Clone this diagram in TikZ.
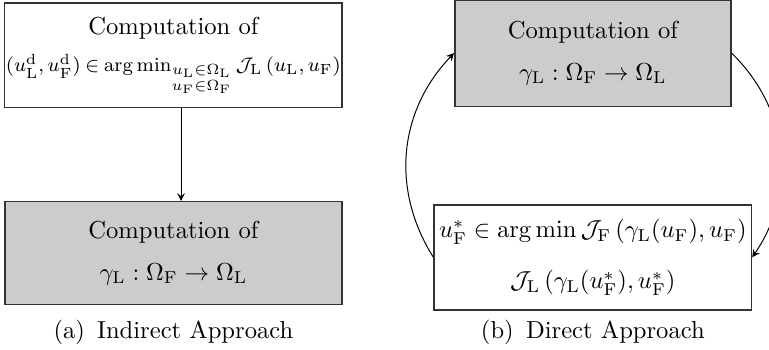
\documentclass[tikz,border=0pt]{standalone}
\usepackage{amsmath,amssymb}
\usepackage{tikz}
\usetikzlibrary{positioning, arrows.meta, calc}

\begin{document}
\begin{tikzpicture}[
  cbox/.style={draw=black!80, line width=0.6pt, rectangle, align=center, inner sep=2pt},
  gbox/.style={cbox, fill=gray!40},
  captxt/.style={inner sep=0pt},
  >=stealth
]
  \useasboundingbox (0,0) rectangle (11,-5.005);

  % 1. Indirect approach (left)
  \node[cbox, inner xsep=0.5pt, minimum width=4.82cm, minimum height=1.49cm] (indcomp) at (2.48,-0.79)
    {Computation of\\[3pt]
     {\fontsize{8.4}{10}\selectfont\thickmuskip=4mu
      $(u_{\mathrm{L}}^{\mathrm{d}},u_{\mathrm{F}}^{\mathrm{d}})\in\arg\min_{\substack{u_{\mathrm{L}}\in\Omega_{\mathrm{L}}\\ u_{\mathrm{F}}\in\Omega_{\mathrm{F}}}}\mathcal{J}_{\mathrm{L}}\,(u_{\mathrm{L}},u_{\mathrm{F}})$}};
  \node[gbox, minimum width=4.82cm, minimum height=1.47cm, below=1.33cm of indcomp] (indgam)
    {Computation of\\[5pt] $\gamma_{\mathrm{L}}:\Omega_{\mathrm{F}}\to\Omega_{\mathrm{L}}$};
  \node[captxt, below=0.2cm of indgam] (capa) {(a)\enskip Indirect Approach};

  \draw[->] ([xshift=0.11cm]indcomp.south) -- ([xshift=0.11cm]indgam.north);

  % 2. Direct approach (right)
  \node[gbox, minimum width=3.95cm, minimum height=1.52cm] (dirgam) at (8.48,-0.76)
    {Computation of\\[5pt] $\gamma_{\mathrm{L}}:\Omega_{\mathrm{F}}\to\Omega_{\mathrm{L}}$};
  \node[cbox, minimum width=3.95cm, minimum height=1.5cm, below=1.39cm of dirgam] (diropt)
    {$u_{\mathrm{F}}^{*}\in\arg\min\mathcal{J}_{\mathrm{F}}\,(\gamma_{\mathrm{L}}(u_{\mathrm{F}}),u_{\mathrm{F}})$\\[9pt]
     $\mathcal{J}_{\mathrm{L}}\left(\gamma_{\mathrm{L}}(u_{\mathrm{F}}^{*}),u_{\mathrm{F}}^{*}\right)$};
  \node[captxt] (capb) at (capa -| diropt) {(b)\enskip Direct Approach};

  % loop between the two steps
  \draw[->] (diropt.west) to[bend left=38] (dirgam.west);
  \draw[->] (dirgam.east) to[bend left=40] (diropt.east);

\end{tikzpicture}
\end{document}
